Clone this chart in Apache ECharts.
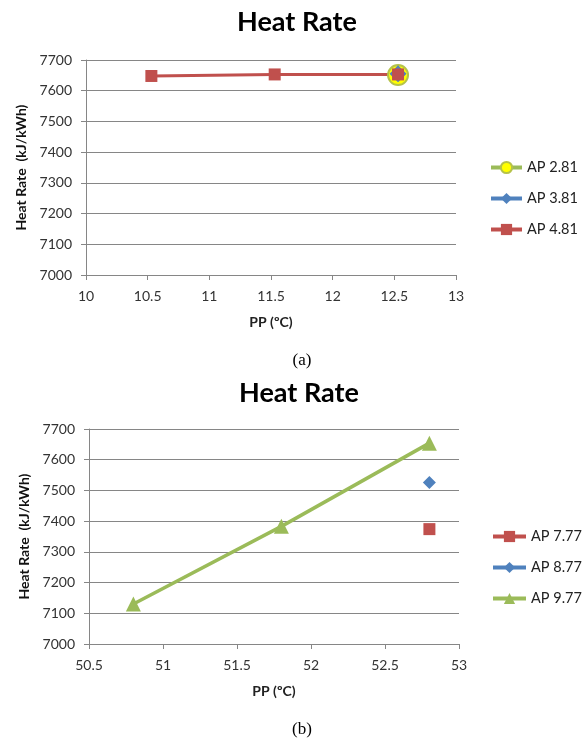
<!DOCTYPE html>
<html>
<head>
<meta charset="utf-8">
<script src="https://cdn.jsdelivr.net/npm/echarts@6/dist/echarts.min.js"></script>
<style>
html,body{margin:0;padding:0;background:#fff;}
#chart{width:587px;height:739px;}
</style>
</head>
<body>
<div id="chart"></div>
<script>
// Chart (a)
const titleA = 'Heat Rate';
const seriesNamesA = ['AP 2.81', 'AP 3.81', 'AP 4.81'];
const ap281 = [[12.53, 7651]];
const ap381 = [[12.53, 7655]];
const ap481 = [[10.53, 7648], [11.53, 7653], [12.53, 7653]];
const xTicksA = {min: 10, max: 13, interval: 0.5};

// Chart (b)
const titleB = 'Heat Rate';
const seriesNamesB = ['AP 7.77', 'AP 8.77', 'AP 9.77'];
const ap777 = [[52.8, 7374]];
const ap877 = [[52.8, 7526]];
const ap977 = [[50.8, 7130], [51.8, 7383], [52.8, 7654]];
const xTicksB = {min: 50.5, max: 53, interval: 0.5};

const yTicks = {min: 7000, max: 7700, interval: 100};
const yName = 'Heat Rate  (kJ/kWh)';
const xName = 'PP (\u00BAC)';
const captions = ['(a)', '(b)'];

const FONT = 'Lato, "Open Sans", sans-serif';
const GRAY = '#868686';
const RED = '#C0504D', BLUE = '#4F81BD', GREEN = '#9BBB59';

function xAxis(idx, t) {
  return {
    type: 'value', gridIndex: idx, min: t.min, max: t.max, interval: t.interval,
    name: xName, nameLocation: 'middle', nameGap: 40,
    nameTextStyle: {fontFamily: FONT, fontWeight: 'bold', fontSize: 14, color: '#222'},
    axisLine: {show: true, lineStyle: {color: GRAY, width: 1}},
    axisTick: {show: true, length: 5, lineStyle: {color: GRAY}},
    axisLabel: {fontFamily: FONT, fontSize: 14, color: '#333', margin: 14,
      formatter: v => String(v)},
    splitLine: {show: false}
  };
}
function yAxis(idx) {
  return {
    type: 'value', gridIndex: idx, min: yTicks.min, max: yTicks.max, interval: yTicks.interval,
    name: yName, nameLocation: 'middle', nameGap: 55, nameRotate: 90,
    nameTextStyle: {fontFamily: FONT, fontWeight: 'bold', fontSize: 14, color: '#111'},
    axisLine: {show: true, lineStyle: {color: GRAY, width: 1}},
    axisTick: {show: true, length: 5, lineStyle: {color: GRAY}},
    axisLabel: {fontFamily: FONT, fontSize: 14, color: '#333', margin: 14,
      formatter: v => String(v)},
    splitLine: {show: true, lineStyle: {color: GRAY, width: 1}}
  };
}

const chart = echarts.init(document.getElementById('chart'), null, {renderer: 'canvas'});
chart.setOption({
  animation: false,
  backgroundColor: '#fff',
  title: [
    {text: titleA, left: 292, top: 4, textAlign: 'center',
     textStyle: {fontFamily: FONT, fontWeight: 'bold', fontSize: 27, color: '#000'}},
    {text: titleB, left: 294, top: 375, textAlign: 'center',
     textStyle: {fontFamily: FONT, fontWeight: 'bold', fontSize: 27, color: '#000'}},
    {text: captions[0], left: 297, top: 347, textAlign: 'center',
     textStyle: {fontFamily: '"Liberation Serif", serif', fontWeight: 'normal', fontSize: 17, color: '#000'}},
    {text: captions[1], left: 297, top: 716, textAlign: 'center',
     textStyle: {fontFamily: '"Liberation Serif", serif', fontWeight: 'normal', fontSize: 17, color: '#000'}}
  ],
  grid: [
    {left: 86, top: 60, width: 370, height: 215},
    {left: 89, top: 429, width: 370, height: 215}
  ],
  xAxis: [xAxis(0, xTicksA), xAxis(1, xTicksB)],
  yAxis: [yAxis(0), yAxis(1)],
  legend: [
    {data: seriesNamesA, orient: 'vertical', left: 489, top: 160, padding: 0,
     itemWidth: 31, itemHeight: 14, itemGap: 16,
     lineStyle: {width: 4},
     textStyle: {fontFamily: FONT, fontSize: 14.5, color: '#222'}},
    {data: seriesNamesB, orient: 'vertical', left: 491, top: 529, padding: 0,
     itemWidth: 33, itemHeight: 14, itemGap: 16,
     lineStyle: {width: 4},
     textStyle: {fontFamily: FONT, fontSize: 14.5, color: '#222'}}
  ],
  series: [
    {name: seriesNamesA[0], type: 'line', xAxisIndex: 0, yAxisIndex: 0, data: ap281,
     symbol: 'circle', symbolSize: 20, lineStyle: {color: GREEN, width: 3},
     itemStyle: {color: '#FFFF00', borderColor: '#B5C24A', borderWidth: 2}},
    {name: seriesNamesA[1], type: 'line', xAxisIndex: 0, yAxisIndex: 0, data: ap381,
     symbol: 'diamond', symbolSize: 17, lineStyle: {color: BLUE, width: 3},
     itemStyle: {color: BLUE}},
    {name: seriesNamesA[2], type: 'line', xAxisIndex: 0, yAxisIndex: 0, data: ap481,
     symbol: 'rect', symbolSize: 12, lineStyle: {color: RED, width: 3},
     itemStyle: {color: RED}},
    {name: seriesNamesB[0], type: 'line', xAxisIndex: 1, yAxisIndex: 1, data: ap777,
     symbol: 'rect', symbolSize: 12, lineStyle: {color: RED, width: 3},
     itemStyle: {color: RED}},
    {name: seriesNamesB[1], type: 'line', xAxisIndex: 1, yAxisIndex: 1, data: ap877,
     symbol: 'diamond', symbolSize: 13, lineStyle: {color: BLUE, width: 3},
     itemStyle: {color: BLUE}},
    {name: seriesNamesB[2], type: 'line', xAxisIndex: 1, yAxisIndex: 1, data: ap977,
     symbol: 'triangle', symbolSize: 15, lineStyle: {color: GREEN, width: 3.5},
     itemStyle: {color: GREEN}}
  ]
});
</script>
</body>
</html>
